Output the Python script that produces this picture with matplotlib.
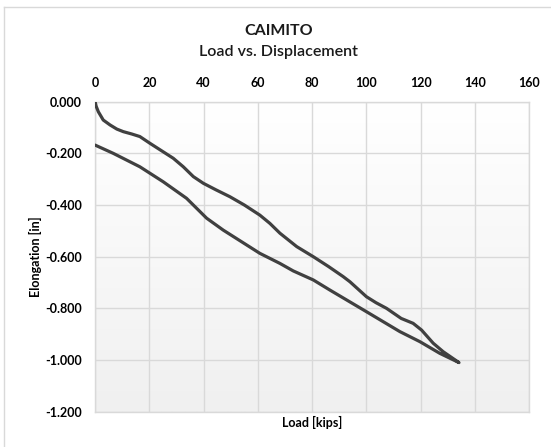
import matplotlib.pyplot as plt
import numpy as np
from matplotlib.colors import LinearSegmentedColormap
from matplotlib.lines import Line2D

# loading branch (load in kips, elongation in inches)
load_up = [0, 0.4, 1.2, 3.0, 5.5, 8.0, 10.4, 13.5, 16.5, 20.2, 24.5, 28.8, 32.5, 36.2,
           39.9, 44.5, 49.7, 55.0, 60.7, 64.4, 68.1, 74.3, 80.4, 86.0, 91.4, 93.9,
           100.0, 103.5, 107.4, 112.8, 117.2, 120.3, 124.6, 128.3, 134.1]
elong_up = [0, -0.018, -0.039, -0.071, -0.090, -0.106, -0.116, -0.125, -0.135, -0.161,
            -0.190, -0.219, -0.252, -0.290, -0.316, -0.341, -0.368, -0.400, -0.439,
            -0.471, -0.509, -0.561, -0.600, -0.638, -0.677, -0.697, -0.755, -0.778,
            -0.800, -0.839, -0.858, -0.884, -0.935, -0.968, -1.010]

# unloading branch
load_down = [134.1, 127.0, 119.7, 112.3, 100.0, 86.5, 80.4, 73.0, 68.1, 60.7, 47.2,
             41.1, 33.7, 25.1, 16.5, 6.7, 0]
elong_down = [-1.010, -0.974, -0.929, -0.890, -0.813, -0.729, -0.690, -0.655, -0.626,
              -0.587, -0.497, -0.451, -0.374, -0.310, -0.252, -0.200, -0.168]

x_ticks = [0, 20, 40, 60, 80, 100, 120, 140, 160]
y_ticks = [0.0, -0.2, -0.4, -0.6, -0.8, -1.0, -1.2]

plt.rcParams['font.family'] = ['Lato', 'DejaVu Sans']

fig = plt.figure(figsize=(5.51, 4.47), dpi=100)
ax = fig.add_axes([0.1726, 0.079, 0.788, 0.6935])

# plot area gradient
cmap = LinearSegmentedColormap.from_list('bg', ['#ffffff', '#f0f0f0'])
grad = np.linspace(0, 1, 256)[:, None]
ax.imshow(grad, extent=(0, 160, -1.2, 0), aspect='auto', cmap=cmap, zorder=0)

ax.plot(load_up + load_down[1:], elong_up + elong_down[1:], color='#404040', lw=2.3,
        solid_joinstyle='round', solid_capstyle='round', zorder=3)

ax.set_xlim(0, 160)
ax.set_ylim(-1.2, 0)
ax.set_xticks(x_ticks)
ax.set_yticks(y_ticks)
ax.set_yticklabels([f'{v:.3f}' for v in y_ticks])
ax.xaxis.tick_top()
ax.tick_params(length=0, labelsize=9, colors='#000000')
ax.tick_params(axis='y', pad=9.5)
ax.tick_params(axis='x', pad=9)
for lbl in ax.get_xticklabels() + ax.get_yticklabels():
    lbl.set_fontweight('bold')

ax.grid(True, color='#d9d9d9', lw=1.0, zorder=1)
ax.set_axisbelow(True)
for s in ax.spines.values():
    s.set_color('#d9d9d9')
    s.set_linewidth(1.0)

ax.set_xlabel('Load [kips]', fontsize=9, fontweight='bold')
ax.xaxis.set_label_position('bottom')
ax.xaxis.set_label_coords(0.5, -0.036)
ax.xaxis.label.set_va('center')
ax.set_ylabel('Elongation [in]', fontsize=9, fontweight='bold')
ax.yaxis.set_label_coords(-0.138, 0.5)
ax.yaxis.label.set_va('center')

fig.text(0.506, 1 - 31 / 447, 'CAIMITO', ha='center', va='center', fontsize=11.5,
         fontweight='bold', color='#1a1a1a')
fig.text(0.506, 1 - 52 / 447, 'Load vs. Displacement', ha='center', va='center',
         fontsize=11.5, fontweight='semibold', color='#1a1a1a')

# chart border (top and left visible)
fig.add_artist(Line2D([3.5 / 551, 1.0], [1 - 7.3 / 447] * 2, transform=fig.transFigure,
                      color='#d9d9d9', lw=1.0))
fig.add_artist(Line2D([3.5 / 551] * 2, [0.0, 1 - 7.3 / 447], transform=fig.transFigure,
                      color='#d9d9d9', lw=1.0))

fig.savefig('out.png', dpi=100)
